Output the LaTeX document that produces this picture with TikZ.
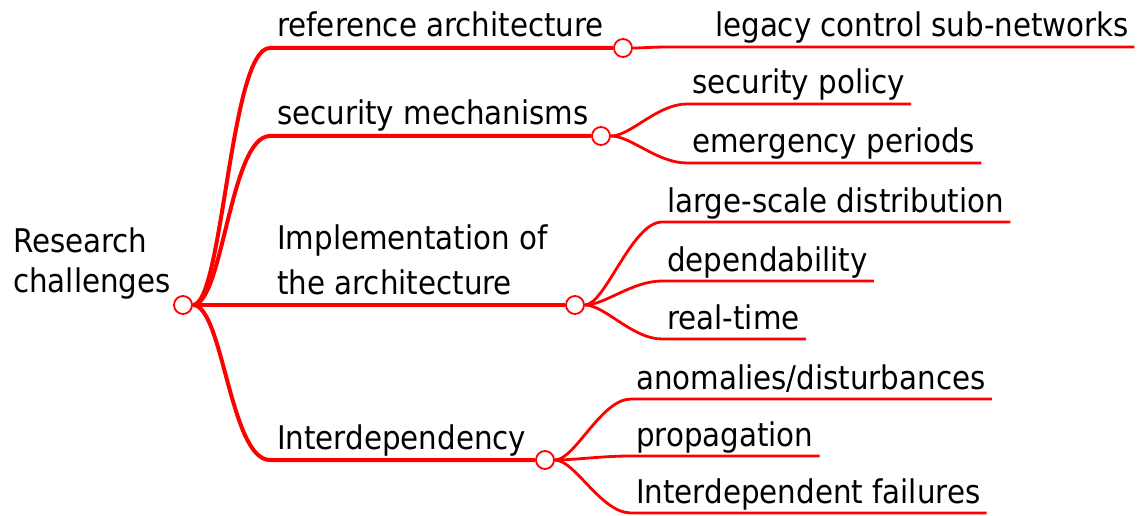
\documentclass[tikz,border=0pt]{standalone}
\usepackage{fontspec}
\setmainfont{DejaVu Sans Condensed}
\usetikzlibrary{positioning}
\definecolor{branch}{HTML}{FF0000}

\begin{document}
\begin{tikzpicture}[
  x=1pt, y=-1pt,
  every node/.style={font=\fontsize{32.6}{40}\selectfont},
  lbl/.style={anchor=base west, inner sep=0pt},
  two/.style={anchor=north west, inner sep=0pt, align=left},
  dot/.style={circle, draw=branch, fill=white, line width=1.8pt,
              minimum size=18pt, inner sep=0pt},
  br/.style ={draw=branch, line width=4pt},
  sub/.style={draw=branch, line width=2.8pt}
]
\useasboundingbox (0,0) rectangle (1144,516);
\node[dot] (root) at (183,305) {};
\node[two] (rc) at (13,228) {Research\\challenges};

\node[dot] (refc) at (623,48) {};
\node[dot] (secc) at (601,136) {};
\node[dot] (impc) at (575,305) {};
\node[dot] (intc) at (545,460) {};
\node[lbl] (ref) at (277,37) {reference architecture};
\node[lbl] (sec) at (277,125) {security mechanisms};
\node[two, font=\fontsize{32.6}{45}\selectfont] (imp) at (277,225) {Implementation of\\the architecture};
\node[lbl] (int) at (277,449) {Interdependency};

\node[lbl] (leg) at (715,37)  {legacy control sub-networks};
\node[lbl] (pol) at (692,94)  {security policy};
\node[lbl] (emg) at (692,153) {emergency periods};
\node[lbl] (lsd) at (667,212) {large-scale distribution};
\node[lbl] (dep) at (667,271) {dependability};
\node[lbl] (rt)  at (667,329) {real-time};
\node[lbl] (ano) at (636,389) {anomalies/disturbances};
\node[lbl] (prp) at (636,446) {propagation};
\node[lbl] (idf) at (636,503) {Interdependent failures};

\draw[br] (root) .. controls +(40,0) and +(-40,0) .. ([shift={(-7,11)}]ref.base west) -- (refc);
\draw[br] (root) .. controls +(40,0) and +(-40,0) .. ([shift={(-7,11)}]sec.base west) -- (secc);
\draw[br] (root) -- (impc);
\draw[br] (root) .. controls +(40,0) and +(-40,0) .. ([shift={(-7,11)}]int.base west) -- (intc);

\draw[sub] (refc) .. controls +(20,0) and +(-20,0) .. ([shift={(-45,10)}]leg.base west) -- ([shift={(5,10)}]leg.base east);
\draw[sub] (secc) .. controls +(30,0) and +(-30,0) .. ([shift={(-5,10)}]pol.base west) -- ([shift={(6,10)}]pol.base east);
\draw[sub] (secc) .. controls +(30,0) and +(-30,0) .. ([shift={(-5,10)}]emg.base west) -- ([shift={(6,10)}]emg.base east);
\draw[sub] (impc) .. controls +(30,0) and +(-30,0) .. ([shift={(-5,10)}]lsd.base west) -- ([shift={(6,10)}]lsd.base east);
\draw[sub] (impc) .. controls +(30,0) and +(-30,0) .. ([shift={(-5,10)}]dep.base west) -- ([shift={(6,10)}]dep.base east);
\draw[sub] (impc) .. controls +(30,0) and +(-30,0) .. ([shift={(-5,10)}]rt.base west) -- ([shift={(6,10)}]rt.base east);
\draw[sub] (intc) .. controls +(30,0) and +(-30,0) .. ([shift={(-5,10)}]ano.base west) -- ([shift={(6,10)}]ano.base east);
\draw[sub] (intc) .. controls +(30,0) and +(-30,0) .. ([shift={(-5,10)}]prp.base west) -- ([shift={(6,10)}]prp.base east);
\draw[sub] (intc) .. controls +(30,0) and +(-30,0) .. ([shift={(-5,10)}]idf.base west) -- ([shift={(6,10)}]idf.base east);
\end{tikzpicture}
\end{document}
